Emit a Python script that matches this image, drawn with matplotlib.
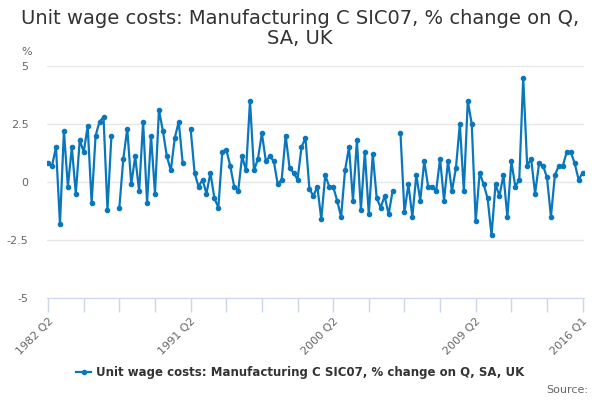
import numpy as np
import matplotlib
matplotlib.use("Agg")
import matplotlib.pyplot as plt

# Quarterly % change, 1982 Q2 .. 2016 Q1 (None = no value shown)
start_year, start_q = 1982, 2
values = [
    0.8, 0.7, 1.5, -1.8, 2.2, -0.2, 1.5, -0.5, 1.8, 1.3,
    2.4, -0.9, 2.0, 2.6, 2.8, -1.2, 2.0, None, -1.1, 1.0,
    2.3, -0.1, 1.1, -0.4, 2.6, -0.9, 2.0, -0.5, 3.1, 2.2,
    1.1, 0.5, 1.9, 2.6, 0.8, None, 2.3, 0.4, -0.2, 0.1,
    -0.5, 0.4, -0.7, -1.1, 1.3, 1.4, 0.7, -0.2, -0.4, 1.1,
    0.5, 3.5, 0.5, 1.0, 2.1, 0.9, 1.1, 0.9, -0.1, 0.1,
    2.0, 0.6, 0.4, 0.1, 1.5, 1.9, -0.3, -0.6, -0.2, -1.6,
    0.3, -0.2, -0.2, -0.8, -1.5, 0.5, 1.5, -0.8, 1.8, -1.2,
    1.3, -1.4, 1.2, -0.7, -1.1, -0.6, -1.4, -0.4, None, 2.1,
    -1.3, -0.1, -1.5, 0.3, -0.8, 0.9, -0.2, -0.2, -0.4, 1.0,
    -0.8, 0.9, -0.4, 0.6, 2.5, -0.4, 3.5, 2.5, -1.7, 0.4,
    -0.1, -0.7, -2.3, -0.1, -0.6, 0.3, -1.5, 0.9, -0.2, 0.1,
    4.5, 0.7, 1.0, -0.5, 0.8, 0.7, 0.2, -1.5, 0.3, 0.7,
    0.7, 1.3, 1.3, 0.8, 0.1, 0.4,
]
quarters = []
for k in range(len(values)):
    q = start_q - 1 + k
    quarters.append(f"{start_year + q // 4} Q{q % 4 + 1}")

tick_labels = ["1982 Q2", "1991 Q2", "2000 Q2", "2009 Q2", "2016 Q1"]
y_ticks = [-5, -2.5, 0, 2.5, 5]
y_tick_labels = ["-5", "-2.5", "0", "2.5", "5"]
series_name = "Unit wage costs: Manufacturing C SIC07, % change on Q, SA, UK"
title = "Unit wage costs: Manufacturing C SIC07, % change on Q,\nSA, UK"

blue = "#0a77bd"
grid_col = "#e6e6e6"
axis_col = "#ccd6eb"

y = np.array([np.nan if v is None else v for v in values])
x = np.arange(len(y))

fig = plt.figure(figsize=(6, 4), dpi=100)
ax = fig.add_axes([0.0775, 0.255, 0.8955, 0.58])

line, = ax.plot(x, y, color=blue, lw=1.6, marker="o", ms=3.0,
                label=series_name, zorder=3)

ax.set_xlim(-0.4, len(y) - 1 + 0.3)
ax.set_ylim(-5, 5)
ax.set_yticks(y_ticks)
ax.set_yticklabels(y_tick_labels)
ax.yaxis.grid(True, color=grid_col, lw=1)
ax.tick_params(axis="y", length=0, pad=13, labelsize=8, labelcolor="#666666")

# minor ticks every 9 quarters, labels only at chosen quarters
ax.set_xticks(np.arange(0, len(y), 9), minor=True)
ax.set_xticks([quarters.index(t) for t in tick_labels])
ax.set_xticklabels(tick_labels, rotation=45, ha="right", va="top",
                   rotation_mode="anchor")
ax.tick_params(axis="x", which="both", length=10, color=axis_col, width=1)
ax.tick_params(axis="x", labelsize=8, labelcolor="#666666", pad=3)

for s in ["top", "right", "left"]:
    ax.spines[s].set_visible(False)
ax.spines["bottom"].set_color(axis_col)
ax.set_axisbelow(True)

fig.text(0.5, 0.978, title, ha="center", va="top", fontsize=14,
         color="#333333", linespacing=1.05)
fig.text(0.044, 0.87, "%", ha="center", va="center", fontsize=8,
         color="#666666")

fig.legend(handles=[line], loc="center", bbox_to_anchor=(0.5, 0.068),
           frameon=False, handlelength=1.3, handletextpad=0.4,
           prop={"weight": "bold", "size": 8.5}, labelcolor="#333333")
fig.text(0.98, 0.025, "Source:", ha="right", va="center", fontsize=8,
         color="#666666")

fig.savefig("out.png", dpi=100)
